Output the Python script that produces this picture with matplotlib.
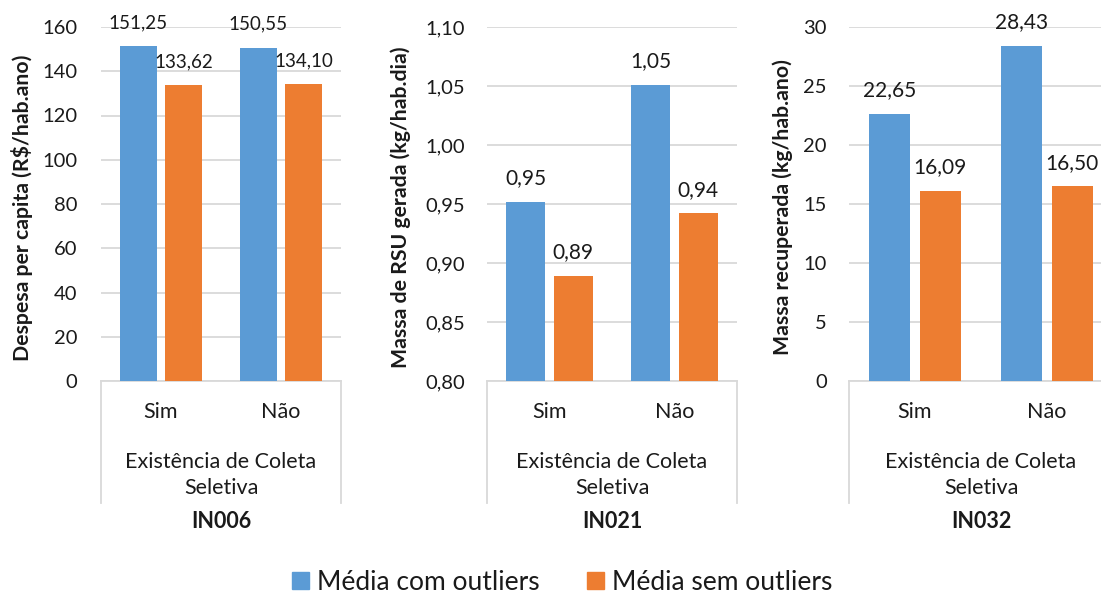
import matplotlib.pyplot as plt
from matplotlib import ticker
from matplotlib.patches import Patch

plt.rcParams['font.family'] = ['Lato', 'DejaVu Sans']

categorias = ["Sim", "Não"]
grupo = "Existência de Coleta\nSeletiva"
series = ["Média com outliers", "Média sem outliers"]
cores = ["#5B9BD5", "#ED7D31"]

in006_com = [151.25, 150.55]
in006_sem = [133.62, 134.10]
in021_com = [0.952, 1.051]
in021_sem = [0.889, 0.942]
in032_com = [22.65, 28.43]
in032_sem = [16.09, 16.50]

paineis = [
    {"titulo": "IN006", "ylabel": "Despesa per capita (R$/hab.ano)",
     "com": in006_com, "sem": in006_sem, "ylim": (0, 160), "step": 20, "dec": 0,
     "pos": [101, 240], "ylab_x": 22, "lab_size": 13.5, "pad": 17},
    {"titulo": "IN021", "ylabel": "Massa de RSU gerada (kg/hab.dia)",
     "com": in021_com, "sem": in021_sem, "ylim": (0.80, 1.10), "step": 0.05, "dec": 2,
     "pos": [487, 250], "ylab_x": 401, "lab_size": 15, "pad": 16},
    {"titulo": "IN032", "ylabel": "Massa recuperada (kg/hab.ano)",
     "com": in032_com, "sem": in032_sem, "ylim": (0, 30), "step": 5, "dec": 0,
     "pos": [849, 264], "ylab_x": 783, "lab_size": 15, "pad": 16},
]

W, H = 1101, 594
fig = plt.figure(figsize=(W / 100, H / 100), dpi=100)

ax_bottom = 381
ax_top = 27
grid_c = "#D9D9D9"
txt_c = "#1a1a1a"

for p in paineis:
    left, width = p["pos"]
    ax = fig.add_axes([left / W, 1 - ax_bottom / H, width / W, (ax_bottom - ax_top) / H])
    x = [0, 1]
    bw = 0.31
    off = 0.19
    b1 = ax.bar([i - off for i in x], p["com"], width=bw, color=cores[0], zorder=3)
    b2 = ax.bar([i + off for i in x], p["sem"], width=bw, color=cores[1], zorder=3)
    ax.set_ylim(*p["ylim"])
    ax.set_xlim(-0.5, 1.5)
    ax.yaxis.set_major_locator(ticker.MultipleLocator(p["step"]))
    dec = p["dec"]
    ax.yaxis.set_major_formatter(ticker.FuncFormatter(
        lambda v, pos, d=dec: f"{v:.{d}f}".replace(".", ",")))
    ax.grid(axis="y", color=grid_c, linewidth=1.3, zorder=0)
    for s in ["top", "right", "left"]:
        ax.spines[s].set_visible(False)
    ax.spines["bottom"].set_color(grid_c)
    ax.spines["bottom"].set_linewidth(1.3)
    ax.tick_params(axis="y", length=0, labelsize=14.5, labelcolor=txt_c, pad=p["pad"])
    ax.set_xticks(x)
    ax.set_xticklabels(categorias)
    ax.tick_params(axis="x", length=0, labelsize=15.5, labelcolor=txt_c, pad=15)

    # rotulos dos dados
    for bars, vals in [(b1, p["com"]), (b2, p["sem"])]:
        for b, v in zip(bars, vals):
            ax.annotate(f"{v:.2f}".replace(".", ","),
                        (b.get_x() + b.get_width() / 2, b.get_height()),
                        xytext=(0, 17), textcoords="offset points",
                        ha="center", va="center", fontsize=p["lab_size"], color=txt_c)

    ax.set_ylabel(p["ylabel"], fontsize=15.3, fontweight="bold", color=txt_c, va="center")
    ax.yaxis.set_label_coords((p["ylab_x"] - left) / width, 0.49)

    # eixo de categorias em dois niveis
    h = ax_bottom - ax_top
    for xv in [-0.5, 1.5]:
        ax.axvline(xv, ymin=-(503 - ax_bottom) / h, ymax=0, color=grid_c,
                   linewidth=1.3, clip_on=False)
    ax.text(0.5, -(475 - ax_bottom) / h, grupo, transform=ax.transAxes,
            ha="center", va="center", fontsize=15.5, color=txt_c, linespacing=1.35)
    ax.text(0.5, -(521 - ax_bottom) / h, p["titulo"], transform=ax.transAxes,
            ha="center", va="center", fontsize=15.5, fontweight="bold", color=txt_c)

handles = [Patch(color=c, label=s) for c, s in zip(cores, series)]
fig.legend(handles=handles, loc="center", bbox_to_anchor=(562 / W, 1 - 582 / H),
           ncol=2, frameon=False, fontsize=19, handlelength=0.64, handleheight=0.64,
           handletextpad=0.3, columnspacing=1.8, labelcolor=txt_c,
           borderaxespad=0, borderpad=0)

plt.savefig("out.png", dpi=100)
